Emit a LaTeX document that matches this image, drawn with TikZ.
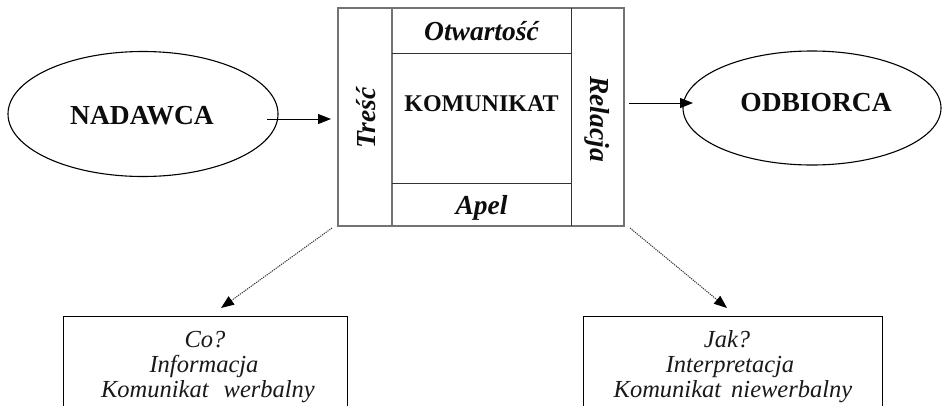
\documentclass[tikz,border=0pt]{standalone}
\usepackage{fontspec}
\setmainfont{Liberation Serif}
\usetikzlibrary{arrows.meta,shapes.geometric}
\begin{document}
\begin{tikzpicture}[x=1pt,y=-1pt,
  ell/.style={ellipse, draw=black, line width=1.1pt, inner sep=0pt},
  arr/.style={-{Triangle[length=13pt,width=10pt]}, line width=1pt},
  dotarr/.style={-{Triangle[length=13pt,width=10pt,color=black]}, line width=1pt, draw=black!80, dash pattern=on 1.2pt off 1pt},
  outer/.style={draw=black!55, line width=1.2pt},
  innerl/.style={draw=black!80, line width=1pt},
  bigtxt/.style={font=\fontsize{27.5}{30}\selectfont\bfseries, text=black!95, inner sep=0pt},
  komtxt/.style={font=\fontsize{24}{28}\selectfont\bfseries, text=black!95, inner sep=0pt},
  celltxt/.style={font=\fontsize{27.5}{30}\selectfont\bfseries\itshape, text=black!95, inner sep=0pt},
  lowtxt/.style={font=\fontsize{24.5}{26}\selectfont\itshape, text=black!90, inner sep=0pt, anchor=base},
  lowbox/.style={draw=black, line width=1pt, inner sep=0pt, anchor=north west}
]
\useasboundingbox (0,0) rectangle (947,405);
\clip (0,0) rectangle (947,405);
\fill[white] (0,0) rectangle (947,405);

% sender and receiver
\node[ell, minimum width=270pt, minimum height=125pt] (nad) at (143,114) {};
\node[bigtxt, anchor=base] (nadt) at (142,124) {NADAWCA};
\node[ell, minimum width=258pt, minimum height=114pt] (odb) at (812,108) {};
\node[bigtxt, anchor=base] (odbt) at (816,111) {ODBIORCA};

% message box
\node[outer, minimum width=286pt, minimum height=218pt, inner sep=0pt] (kbox) at (481,117) {};
\draw[outer] (392,8) -- (392,226);
\draw[innerl] (571,8) -- (571,226);
\draw[innerl] (392,53) -- (571,53);
\draw[innerl] (392,183) -- (571,183);
\node[celltxt, anchor=base] (otw) at (481.5,40) {Otwartość};
\node[celltxt, anchor=base] (apel) at (481.5,214) {Apel};
\node[komtxt, anchor=base] (kom) at (481.5,111) {KOMUNIKAT};
\node[celltxt, rotate=90] (tresc) at (366,118) {Treść};
\node[celltxt, rotate=-90] (rel) at (597,119) {Relacja};

% solid arrows
\coordinate (a1s) at (267,119);
\coordinate (a1e) at (331,119);
\draw[arr] (a1s) -- (a1e);
\coordinate (a2s) at (629,103);
\coordinate (a2e) at (693,103);
\draw[arr] (a2s) -- (a2e);

% bottom boxes
\node[lowbox, minimum width=284pt, minimum height=120pt] (lbox) at (63,316) {};
\node[lowbox, minimum width=299pt, minimum height=120pt] (rbox) at (583,316) {};
\node[lowtxt] (l1) at (205,347) {Co?};
\node[lowtxt] (l2) at (204,372) {Informacja};
\node[lowtxt] (l3) at (208,397) {Komunikat\hspace{15pt}werbalny};
\node[lowtxt] (r1) at (727,347) {Jak?};
\node[lowtxt] (r2) at (730,372) {Interpretacja};
\node[lowtxt] (r3) at (733,397) {Komunikat\hspace{10pt}niewerbalny};

% dotted arrows
\coordinate (d1s) at (332,228);
\coordinate (d1e) at (221,308);
\draw[dotarr] (d1s) -- (d1e);
\coordinate (d2s) at (630,228);
\coordinate (d2e) at (727,308);
\draw[dotarr] (d2s) -- (d2e);
\end{tikzpicture}
\end{document}
